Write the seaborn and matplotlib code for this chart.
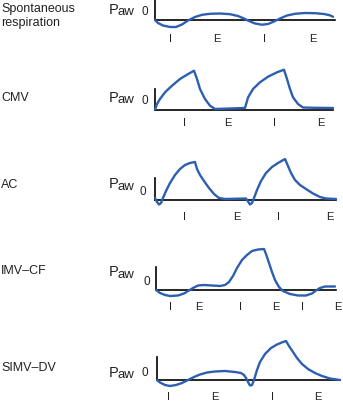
import matplotlib
matplotlib.use("Agg")
import matplotlib.pyplot as plt
import seaborn as sns

sns.set_theme(style="white")
plt.rcParams["font.family"] = ["Liberation Sans", "DejaVu Sans"]

# ---- data (time in arbitrary units, pressure relative to 0) ----
mode_names = ["Spontaneous\nrespiration", "CMV", "AC", "IMV\u2013CF", "SIMV\u2013DV"]

spont_t = [155, 158, 163, 170, 176, 182, 188, 195, 202, 210, 220, 230, 238, 244, 249, 255, 262, 268, 274, 280, 287, 295, 305, 315, 324, 330, 333]
spont_p = [0, -3, -5.5, -7, -7, -4.5, -0.5, 3, 5.2, 6.2, 6.5, 5.8, 4, 1.5, -1, -3.5, -4.7, -4, -1.5, 1.5, 4.5, 6.2, 7, 6.8, 6, 4.7, 3.2]

cmv_t = [155, 157, 160, 165, 172, 180, 187, 194, 197, 200, 205, 210, 215, 230, 245, 248, 253, 260, 268, 277, 284, 287, 290, 293, 298, 303, 315, 333]
cmv_p = [0.5, 6, 11, 17.7, 24.3, 31, 35.3, 39.3, 31, 21, 11, 4.3, 1, 1.5, 2, 12.5, 21, 27.7, 33.3, 37.7, 40.3, 31, 21, 12.7, 6, 2.5, 2.2, 2]

ac_t = [155, 157, 159, 161, 163, 166, 170, 175, 180, 185, 190, 195, 197, 200, 204, 209, 214, 219, 225, 246, 248, 250, 252, 254, 257, 261, 266, 272, 278, 285, 288, 291, 295, 300, 306, 313, 320, 326, 336]
ac_p = [2, -2, -4.5, -3, 2, 9, 17, 25, 31, 35, 37, 38, 31, 25, 19, 12, 6, 2, 1, 1.5, -1.5, -4.5, -3, 2, 10, 19, 27, 33, 37, 41, 34, 27, 20, 15, 11, 6.5, 3, 1.5, 1]

imv_t = [156, 160, 165, 170, 178, 184, 188, 193, 198, 204, 212, 220, 225, 229, 233, 237, 242, 247, 252, 258, 264, 266, 269, 272, 275, 279, 283, 290, 298, 306, 312, 316, 320, 325, 335]
imv_p = [0, -3, -5, -6, -5.5, -3.5, -1, 2, 4.5, 5, 4.5, 4, 5, 8, 14, 22, 30, 35, 39, 40.5, 41, 36, 27, 18, 10, 3, -1, -4, -5.5, -5.5, -3.5, -0.5, 2, 3.5, 3.5]

simv_t = [157, 160, 165, 170, 176, 182, 188, 194, 200, 207, 215, 225, 235, 241, 244, 246, 248, 250, 252, 254, 257, 260, 265, 271, 277, 283, 286, 289, 293, 297, 302, 308, 315, 322, 330, 340]
simv_p = [0, -2.5, -5, -6, -5, -3, 0, 3, 5.5, 7.5, 8.5, 9, 8, 7, 5, 2, -2, -5.5, -5, 0, 10, 18, 26, 32, 35.5, 38, 39, 34, 28, 22, 16, 11, 7, 4, 1.5, 0]

phase_labels = [
    ["I", "E", "I", "E"],
    ["I", "E", "I", "E"],
    ["I", "E", "I", "E"],
    ["I", "E", "I", "E", "I", "E"],
    ["I", "E", "I", "E"],
]
phase_pos = [
    [171, 217, 264, 313],
    [184, 228, 274, 321],
    [184, 237, 279, 330],
    [171, 199, 240, 276, 303, 338],
    [168, 215, 272, 318],
]

series_t = [spont_t, cmv_t, ac_t, imv_t, simv_t]
series_p = [spont_p, cmv_p, ac_p, imv_p, simv_p]

# ---- layout (pixels) ----
W, H = 343, 402
baselines = [21, 111, 201, 291, 381]
axis_x0 = [154.5, 155, 155, 156, 157]
axis_x1 = [335, 333, 336, 336, 340]
axis_h = [22, 21, 22, 23, 23]
label_off = [18, 12, 16, 16, 16]
name_off = [5, 13, 16, 20, 13]
p_off = [11.5, 13.5, 16.5, 19, 8]
zero_off = [9, 10, 8.5, 9, 8]
zero_x = [141, 141, 140, 143, 141]

blue = "#2d5fb0"

fig = plt.figure(figsize=(W / 100, H / 100), dpi=100)
below, above = 22, 50
for i in range(5):
    yb = baselines[i]
    ax = fig.add_axes([0, (H - (yb + below)) / H, 1, (below + above) / H])
    ax.set_facecolor("none")
    ax.set_xlim(0, W)
    ax.set_ylim(-below, above)
    sns.lineplot(x=series_t[i], y=series_p[i], ax=ax, color=blue, linewidth=1.7,
                 sort=False, estimator=None, zorder=3)
    for s in ["top", "right"]:
        ax.spines[s].set_visible(False)
    ax.spines["left"].set_position(("data", axis_x0[i]))
    ax.spines["left"].set_bounds(0, axis_h[i])
    ax.spines["bottom"].set_position(("data", 0))
    ax.spines["bottom"].set_bounds(axis_x0[i], axis_x1[i])
    for s in ["left", "bottom"]:
        ax.spines[s].set_color("black")
        ax.spines[s].set_linewidth(1.2)
        ax.spines[s].set_zorder(2)
    ax.set_xticks([])
    ax.set_yticks([])
    ax.set_xlabel("")
    ax.set_ylabel("")
    for lab, x in zip(phase_labels[i], phase_pos[i]):
        ax.text(x, -label_off[i], lab, ha="center", va="center", fontsize=8, color="#222222")
    ax.text(1, name_off[i], mode_names[i], ha="left", va="center", fontsize=9,
            color="#222222", linespacing=1.15)
    ax.text(109, p_off[i], "P", ha="left", va="center", fontsize=10.5, color="#222222")
    ax.text(117.5, p_off[i] - 2.5, "aw", ha="left", va="center", fontsize=9.5, color="#222222")
    ax.text(zero_x[i], zero_off[i], "0", ha="left", va="center", fontsize=8.5, color="#222222")

fig.savefig("out.png", dpi=100)
